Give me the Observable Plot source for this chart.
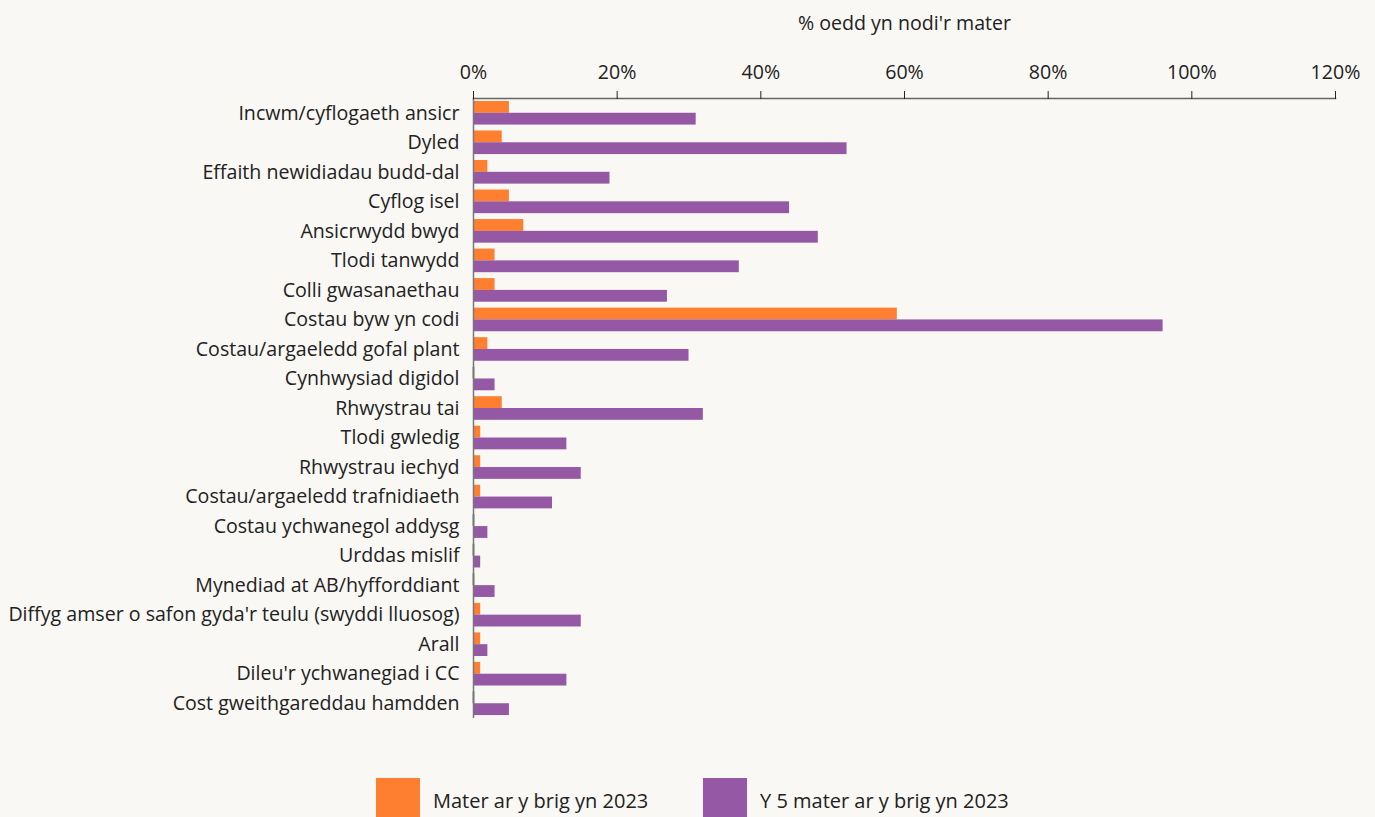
<!DOCTYPE html>
<html>
<head>
<meta charset="utf-8">
<script src="https://cdn.jsdelivr.net/npm/d3@7"></script>
<script src="https://cdn.jsdelivr.net/npm/@observablehq/plot@0.6"></script>
<style>
  html, body { margin: 0; padding: 0; background: #f9f8f4; width: 1375px; height: 817px; overflow: hidden; }
  body { font-family: "Open Sans", Lato, sans-serif; color: #222; position: relative; }
  #chart svg { display: block; }
  #legend { position: absolute; top: 778px; left: 0; width: 1375px; height: 44px; }
  .item { position: absolute; top: 0; display: flex; align-items: center; height: 44px; font-size: 20px; color: #222; }
  .sw { width: 44px; height: 44px; margin-right: 13px; }
</style>
</head>
<body>
<div id="chart"></div>
<div id="legend"></div>
<script>
const categories = [
  "Incwm/cyflogaeth ansicr",
  "Dyled",
  "Effaith newidiadau budd-dal",
  "Cyflog isel",
  "Ansicrwydd bwyd",
  "Tlodi tanwydd",
  "Colli gwasanaethau",
  "Costau byw yn codi",
  "Costau/argaeledd gofal plant",
  "Cynhwysiad digidol",
  "Rhwystrau tai",
  "Tlodi gwledig",
  "Rhwystrau iechyd",
  "Costau/argaeledd trafnidiaeth",
  "Costau ychwanegol addysg",
  "Urddas mislif",
  "Mynediad at AB/hyfforddiant",
  "Diffyg amser o safon gyda'r teulu (swyddi lluosog)",
  "Arall",
  "Dileu'r ychwanegiad i CC",
  "Cost gweithgareddau hamdden"
];
const topIssue = [5, 4, 2, 5, 7, 3, 3, 59, 2, 0, 4, 1, 1, 1, 0, 0, 0, 1, 1, 1, 0];
const top5 = [31, 52, 19, 44, 48, 37, 27, 96, 30, 3, 32, 13, 15, 11, 2, 1, 3, 15, 2, 13, 5];
const seriesNames = ["Mater ar y brig yn 2023", "Y 5 mater ar y brig yn 2023"];
const seriesColors = ["#ff7f30", "#9558a5"];
const xTicks = [0, 20, 40, 60, 80, 100, 120];
const xLabel = "% oedd yn nodi'r mater";

const rows = categories.map((c, i) => ({category: c, a: topIssue[i], b: top5[i]}));

const half = 11.8;
const plot = Plot.plot({
  width: 1375,
  height: 730,
  marginTop: 98,
  marginBottom: 12,
  marginLeft: 473,
  marginRight: 40,
  style: {background: "transparent", fontFamily: "'Open Sans', Lato, sans-serif", fontSize: "19.6px", color: "#222"},
  x: {domain: [0, 120]},
  y: {domain: categories, paddingInner: 0.2, paddingOuter: 0.1, round: false},
  marks: [
    Plot.barX(rows, {y: "category", x: "a", fill: seriesColors[0], insetBottom: half, insetTop: 0}),
    Plot.barX(rows, {y: "category", x: "b", fill: seriesColors[1], insetTop: half, insetBottom: 0}),
    Plot.tickX(rows.filter(d => d.a === 0), {y: "category", x: "a", stroke: "#222", strokeWidth: 1.5, insetBottom: half}),
    Plot.tickX(rows.filter(d => d.b === 0), {y: "category", x: "b", stroke: "#222", strokeWidth: 1.5, insetTop: half}),
    Plot.ruleX([0], {stroke: "#777", strokeWidth: 1.5}),
    Plot.frame({anchor: "top", stroke: "#666", strokeWidth: 1.5}),
    Plot.axisX({anchor: "top", ticks: xTicks, tickSize: 8, tickPadding: 12, tickFormat: d => d + "%", label: xLabel, labelAnchor: "center", labelArrow: "none", labelOffset: 82, stroke: "#222"}),
    Plot.axisY({tickSize: 0, tickPadding: 14, label: null})
  ]
});
document.getElementById("chart").appendChild(plot);

const legend = document.getElementById("legend");
const lefts = [376, 703];
seriesNames.forEach((name, i) => {
  const it = document.createElement("div");
  it.className = "item";
  it.style.left = lefts[i] + "px";
  const sw = document.createElement("div");
  sw.className = "sw";
  sw.style.background = seriesColors[i];
  it.appendChild(sw);
  const t = document.createElement("span");
  t.textContent = name;
  it.appendChild(t);
  legend.appendChild(it);
});
</script>
</body>
</html>
